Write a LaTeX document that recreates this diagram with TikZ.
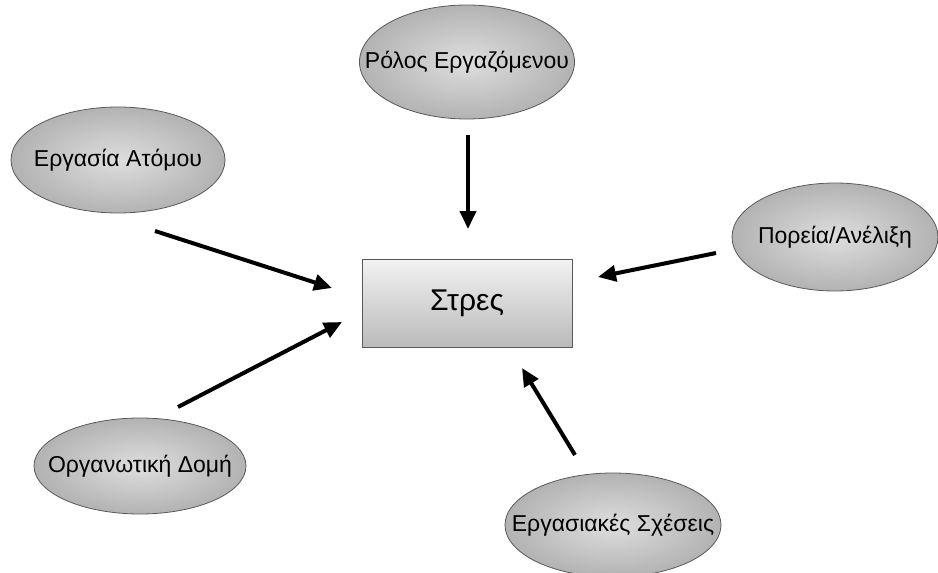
\documentclass[tikz,border=0pt]{standalone}
\usepackage{fontspec}
\setmainfont{Liberation Sans}
\usetikzlibrary{arrows.meta,shapes.geometric}
\newcommand{\zw}[1]{\makebox[0pt]{#1}}
\begin{document}
\begin{tikzpicture}[x=1pt,y=-1pt,
  bubble/.style={ellipse, draw=black!65, line width=0.8pt, inner color=black!13, outer color=black!30,
    minimum width=#1, minimum height=106pt, inner sep=0pt, font=\fontsize{23}{26}\selectfont},
  bubble/.default=214pt,
  stressbox/.style={rectangle, draw=black!65, line width=0.8pt, top color=black!5, bottom color=black!27,
    minimum width=210pt, minimum height=88pt, font=\fontsize{30}{34}\selectfont},
  arr/.style={line width=4pt, -{Triangle[length=18pt,width=16pt]}}]
\useasboundingbox (0,0) rectangle (938,573);
\node[stressbox] (s) at (467,303) {Στρες};
\node[bubble] (a) at (118,160) {\zw{Εργασία Ατόμου}};
\node[bubble=215pt, minimum height=114pt] (r) at (467,62) {\zw{Ρόλος Εργαζόμενου}};
\node[bubble=206pt, minimum height=108pt] (p) at (835,237) {\zw{Πορεία/Ανέλιξη}};
\node[bubble=212pt, minimum height=96pt] (o) at (140,466) {\zw{Οργανωτική Δομή}};
\node[bubble=216pt, minimum height=104pt] (e) at (613,525) {\zw{Εργασιακές Σχέσεις}};
\coordinate (a1) at (155,231);
\coordinate (a2) at (332,288);
\coordinate (r1) at (468,135);
\coordinate (r2) at (468,229);
\coordinate (p1) at (716,253);
\coordinate (p2) at (598,277);
\coordinate (o1) at (178,407);
\coordinate (o2) at (342,322);
\coordinate (e1) at (575,455);
\coordinate (e2) at (522,368);
\draw[arr] (a1) -- (a2);
\draw[arr] (r1) -- (r2);
\draw[arr] (p1) -- (p2);
\draw[arr] (o1) -- (o2);
\draw[arr] (e1) -- (e2);
\end{tikzpicture}
\end{document}
